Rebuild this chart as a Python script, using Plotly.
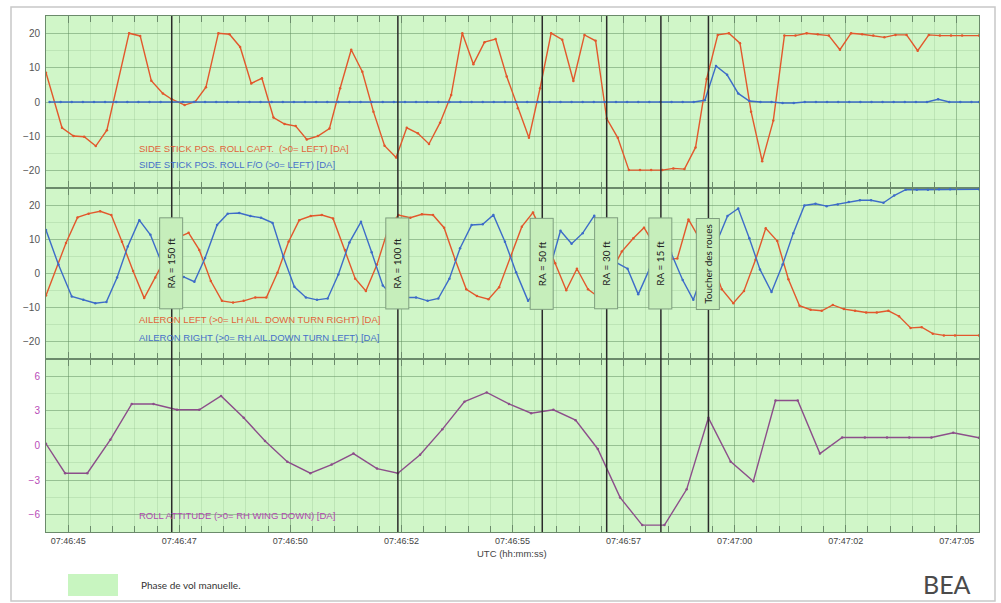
import plotly.graph_objects as go
from plotly.subplots import make_subplots

# ---------------- data (seconds after 07:46:00 UTC) ----------------
tick_vals = [45, 47.5, 50, 52.5, 55, 57.5, 60, 62.5, 65]
tick_text = ["07:46:45", "07:46:47", "07:46:50", "07:46:52", "07:46:55",
             "07:46:57", "07:47:00", "07:47:02", "07:47:05"]

event_t = [47.33, 52.42, 55.67, 57.12, 58.34, 59.41]
event_labels = ["RA = 150 ft", "RA = 100 ft", "RA = 50 ft", "RA = 30 ft",
                "RA = 15 ft", "Toucher des roues"]

t_capt = [44.50, 44.86, 45.12, 45.36, 45.62, 45.87, 46.37, 46.62, 46.87, 47.13,
          47.33, 47.62, 47.86, 48.10, 48.38, 48.63, 48.87, 49.12, 49.36, 49.62,
          49.87, 50.12, 50.37, 50.62, 50.88, 51.12, 51.37, 51.62, 51.87, 52.12,
          52.38, 52.62, 52.87, 53.12, 53.37, 53.62, 53.87, 54.12, 54.37, 54.62,
          54.87, 55.12, 55.37, 55.62, 55.87, 56.12, 56.37, 56.62, 56.87, 57.12,
          57.37, 57.62, 57.87, 58.12, 58.37, 58.62, 58.87, 59.12, 59.37, 59.62,
          59.87, 60.12, 60.37, 60.62, 60.87, 61.12, 61.37, 61.62, 61.87, 62.12,
          62.37, 62.62, 62.87, 63.12, 63.37, 63.62, 63.87, 64.12, 64.37, 64.62,
          64.87, 65.12, 65.50]
stick_capt = [8.5, -7.5, -9.9, -10.1, -12.8, -8.2, 20, 19.2, 6.2, 2.5,
              0.8, -0.9, 0.1, 4.3, 20, 19.7, 16, 5.4, 6.9, -4.5,
              -6.4, -7.0, -10.9, -9.9, -7.7, 4.0, 15.2, 8.8, -2.8, -12.7,
              -16.1, -7.5, -9.1, -12.2, -6.0, 2.0, 20, 11.0, 17.4, 18.3,
              7.4, -1.8, -10.4, 4.0, 20, 18.1, 6.1, 19.5, 17.8, -4.8,
              -10.4, -19.8, -19.8, -19.8, -19.8, -19.3, -19.5, -13.2, 6.7, 19.5,
              20, 17.1, -2.8, -17.2, -5.4, 19.3, 19.3, 20, 19.7, 19.3,
              15.2, 20, 19.7, 19.3, 18.8, 19.5, 19.5, 14.9, 19.5, 19.3,
              19.3, 19.3, 19.3]

t_fo = [44.58, 44.83, 45.08, 45.33, 45.58, 45.83, 46.08, 46.33, 46.58, 46.83,
        47.08, 47.33, 47.58, 47.83, 48.08, 48.33, 48.58, 48.83, 49.08, 49.33,
        49.58, 49.83, 50.08, 50.33, 50.58, 50.83, 51.08, 51.33, 51.58, 51.83,
        52.08, 52.33, 52.58, 52.83, 53.08, 53.33, 53.58, 53.83, 54.08, 54.33,
        54.58, 54.83, 55.08, 55.33, 55.58, 55.83, 56.08, 56.33, 56.58, 56.83,
        57.08, 57.33, 57.58, 57.83, 58.08, 58.33, 58.58, 58.83, 59.08, 59.33,
        59.58, 59.83, 60.08, 60.33, 60.58, 60.83, 61.08, 61.33, 61.58, 61.83,
        62.08, 62.33, 62.58, 62.83, 63.08, 63.33, 63.58, 63.83, 64.08, 64.33,
        64.58, 64.83, 65.08, 65.33, 65.50]
stick_fo = [0, 0, 0, 0, 0, 0, 0, 0, 0, 0,
            0, 0, 0, 0, 0, 0, 0, 0, 0, 0,
            0, 0, 0, 0, 0, 0, 0, 0, 0, 0,
            0, 0, 0, 0, 0, 0, 0, 0, 0, 0,
            0, 0, 0, 0, 0, 0, 0, 0, 0, 0,
            0, 0, 0, 0, 0, 0, 0, 0, 0, 0.5,
            10.5, 7.9, 2.5, 0.3, 0, 0, -0.3, -0.3, 0, 0,
            0, 0, 0, 0, 0, 0, 0, 0, 0, 0,
            0.8, 0, 0, 0, 0]

t_ail_l = [44.50, 44.95, 45.21, 45.46, 45.72, 45.97, 46.21, 46.46, 46.71, 46.96,
           47.21, 47.46, 47.71, 47.95, 48.21, 48.46, 48.71, 48.95, 49.21, 49.46,
           49.71, 49.96, 50.20, 50.46, 50.71, 50.96, 51.23, 51.46, 51.70, 51.95,
           52.20, 52.43, 52.70, 52.96, 53.21, 53.46, 53.71, 53.96, 54.20, 54.46,
           54.70, 54.96, 55.21, 55.46, 55.71, 55.96, 56.21, 56.45, 56.70, 56.95,
           57.20, 57.46, 57.72, 57.96, 58.21, 58.46, 58.71, 58.96, 59.21, 59.46,
           59.71, 59.97, 60.21, 60.47, 60.70, 60.96, 61.21, 61.46, 61.71, 61.96,
           62.21, 62.46, 62.71, 62.96, 63.20, 63.46, 63.70, 63.96, 64.21, 64.46,
           64.71, 64.96, 65.50]
ail_left = [-6.4, 8.9, 16.4, 17.5, 18.2, 17.1, 9.3, 0.7, -7.2, -1.2,
            5.0, 10.5, 11.9, 6.9, -2.2, -8.0, -8.5, -8.0, -7.0, -7.0,
            0.2, 9.3, 15.6, 16.8, 17.1, 16.1, 6.9, -1.5, -5.1, 2.6,
            13.0, 17.1, 16.3, 17.3, 17.1, 13.4, 4.0, -4.6, -6.6, -7.5,
            -4.0, 5.0, 13.7, 17.8, 11.0, 3.0, -4.9, 1.4, -4.6, -7.0,
            0.0, 6.4, 10.3, 13.4, 8.0, 4.0, 4.4, 15.8, 10.0, 4.5,
            -4.6, -8.7, -5.1, 4.0, 13.2, 9.5, -1.7, -9.4, -10.6, -10.9,
            -9.2, -10.4, -10.9, -11.4, -11.4, -10.9, -12.5, -15.9, -15.7, -17.6,
            -18.1, -18.1, -18.1]

t_ail_r = [44.50, 44.78, 45.08, 45.34, 45.61, 45.86, 46.10, 46.34, 46.60, 46.85,
           47.10, 47.35, 47.60, 47.84, 48.08, 48.35, 48.59, 48.85, 49.10, 49.34,
           49.60, 49.84, 50.09, 50.35, 50.60, 50.84, 51.08, 51.33, 51.59, 51.83,
           52.08, 52.33, 52.59, 52.83, 53.09, 53.33, 53.58, 53.82, 54.08, 54.33,
           54.57, 54.83, 55.08, 55.35, 55.58, 55.83, 56.08, 56.33, 56.58, 56.84,
           57.08, 57.35, 57.59, 57.83, 58.08, 58.33, 58.57, 58.83, 59.07, 59.33,
           59.60, 59.84, 60.08, 60.33, 60.57, 60.83, 61.08, 61.32, 61.57, 61.82,
           62.07, 62.32, 62.57, 62.82, 63.07, 63.35, 63.59, 63.85, 64.10, 64.35,
           64.60, 64.85, 65.50]
ail_right = [12.7, 2.6, -6.7, -7.7, -8.7, -8.3, -1.2, 7.9, 15.6, 11.3,
             3.2, -0.5, -1.0, -2.4, 4.5, 14.2, 17.5, 17.7, 16.8, 16.3,
             14.8, 5.0, -3.9, -7.0, -7.7, -7.3, -0.3, 9.1, 15.1, 6.2,
             -3.5, -7.0, -7.0, -7.0, -8.0, -7.3, -1.5, 7.4, 14.2, 14.4,
             17.1, 9.3, 0.4, -8.0, -4.0, 1.0, 12.5, 8.7, 11.8, 16.9,
             8.0, 3.1, 1.4, -6.1, 1.2, 5.0, 6.0, -1.9, -7.7, 2.0,
             9.3, 16.8, 19.0, 10.3, 1.2, -5.4, 2.6, 11.8, 19.9, 20.4,
             19.7, 20.2, 20.9, 21.4, 21.4, 20.7, 22.8, 24.5, 24.5, 24.5,
             24.6, 24.6, 24.6]

t_roll = [44.50, 44.93, 45.43, 45.95, 46.43, 46.92, 47.45, 47.95, 48.44, 48.95,
          49.43, 49.93, 50.45, 50.93, 51.42, 51.95, 52.42, 52.92, 53.42, 53.92,
          54.42, 54.92, 55.42, 55.92, 56.42, 56.92, 57.42, 57.92, 58.42, 58.92,
          59.41, 59.91, 60.42, 60.92, 61.42, 61.92, 62.42, 62.93, 63.43, 63.93,
          64.43, 64.92, 65.50]
roll = [0.15, -2.4, -2.4, 0.5, 3.6, 3.6, 3.1, 3.1, 4.3, 2.4,
        0.4, -1.4, -2.4, -1.65, -0.7, -2.0, -2.4, -0.8, 1.4, 3.8,
        4.6, 3.6, 2.8, 3.1, 2.2, -0.3, -4.5, -6.9, -6.9, -3.8,
        2.4, -1.4, -3.1, 3.9, 3.9, -0.7, 0.7, 0.7, 0.7, 0.7,
        0.7, 1.1, 0.67]

# ---------------- style ----------------
ORANGE = "#e2582c"
BLUE = "#3d6cc8"
PURPLE = "#8c4e8a"
BG = "#d0f6c8"
AX = "#6b8a6b"
GRID_MAJ = "rgba(95,140,95,0.40)"
GRID_MIN = "rgba(95,140,95,0.16)"
SANS = "Liberation Sans, Arial, sans-serif"
HUM = "Lato, Open Sans, sans-serif"

W, H = 1001, 603
ML, MR, MT, MB = 46, 22, 16, 71
PW, PH = W - ML - MR, H - MT - MB


def px(x):
    return (x - ML) / PW


def py(y):
    return (H - MB - y) / PH


fig = make_subplots(rows=3, cols=1, shared_xaxes=True, vertical_spacing=0,
                    row_heights=[172, 171, 173])

fig.add_trace(go.Scatter(x=t_capt, y=stick_capt, mode="lines+markers",
                         line=dict(color=ORANGE, width=1.4),
                         marker=dict(size=2.5, color=ORANGE)), row=1, col=1)
fig.add_trace(go.Scatter(x=t_fo, y=stick_fo, mode="lines+markers",
                         line=dict(color=BLUE, width=1.4),
                         marker=dict(size=2.5, color=BLUE)), row=1, col=1)
fig.add_trace(go.Scatter(x=t_ail_l, y=ail_left, mode="lines+markers",
                         line=dict(color=ORANGE, width=1.4),
                         marker=dict(size=2.5, color=ORANGE)), row=2, col=1)
fig.add_trace(go.Scatter(x=t_ail_r, y=ail_right, mode="lines+markers",
                         line=dict(color=BLUE, width=1.4),
                         marker=dict(size=2.5, color=BLUE)), row=2, col=1)
fig.add_trace(go.Scatter(x=t_roll, y=roll, mode="lines+markers",
                         line=dict(color=PURPLE, width=1.4),
                         marker=dict(size=2.5, color=PURPLE)), row=3, col=1)

for r in (1, 2, 3):
    fig.update_xaxes(row=r, col=1, range=[44.5, 65.5], tickmode="array",
                     tickvals=tick_vals, ticktext=tick_text,
                     ticks="inside", ticklen=7, tickwidth=1, tickcolor=AX,
                     showline=True, linecolor=AX, linewidth=1, mirror="ticks",
                     showgrid=True, gridcolor=GRID_MAJ, gridwidth=1, zeroline=False,
                     minor=dict(tickmode="linear", tick0=44.5, dtick=0.5,
                                ticks="inside", ticklen=6, tickcolor=AX,
                                showgrid=True, gridcolor=GRID_MIN),
                     tickfont=dict(family=SANS, size=9, color="#444"))

ycommon = dict(showline=True, linecolor=AX, linewidth=1, mirror=True,
               showgrid=True, gridcolor=GRID_MAJ, gridwidth=1, zeroline=False,
               ticks="", ticklabelstandoff=3)
fig.update_yaxes(row=1, col=1, range=[-25, 25], tickvals=[-20, -10, 0, 10, 20],
                 minor=dict(tickmode="linear", tick0=0, dtick=5, showgrid=True,
                            gridcolor=GRID_MIN),
                 tickfont=dict(family=SANS, size=10, color="#555"), **ycommon)
fig.update_yaxes(row=2, col=1, range=[-25, 25], tickvals=[-20, -10, 0, 10, 20],
                 minor=dict(tickmode="linear", tick0=0, dtick=5, showgrid=True,
                            gridcolor=GRID_MIN),
                 tickfont=dict(family=SANS, size=10, color="#555"), **ycommon)
fig.update_yaxes(row=3, col=1, range=[-7.5, 7.5], tickvals=[-6, -3, 0, 3, 6],
                 minor=dict(tickmode="linear", tick0=0, dtick=1.5, showgrid=True,
                            gridcolor=GRID_MIN),
                 tickfont=dict(family=SANS, size=10, color="#b84bb8"), **ycommon)

# event lines and labels
for t, lab in zip(event_t, event_labels):
    fig.add_shape(type="line", xref="x", yref="paper", x0=t, x1=t, y0=0, y1=1,
                  line=dict(color="#2b2b2b", width=1.5), layer="above")
    fig.add_annotation(x=t, y=2.9, xref="x2", yref="y2", text=lab, textangle=-90,
                       showarrow=False, bgcolor="#c6eebb", bordercolor="#7f9f7f",
                       borderwidth=1, borderpad=2, width=86, height=18, xshift=-1,
                       font=dict(family=HUM, size=10, color="#222"))

# series labels
labels = [
    ("SIDE STICK POS. ROLL CAPT.  (>0= LEFT) [DA]", 148, "#e0653a"),
    ("SIDE STICK POS. ROLL F/O (>0= LEFT) [DA]", 165, "#4670c8"),
    ("AILERON LEFT (>0= LH AIL. DOWN TURN RIGHT) [DA]", 320, "#e0653a"),
    ("AILERON RIGHT (>0= RH AIL.DOWN TURN LEFT) [DA]", 337, "#4670c8"),
    ("ROLL ATTITUDE (>0= RH WING DOWN) [DA]", 515, "#b048b0"),
]
for txt, yy, col in labels:
    fig.add_annotation(xref="paper", yref="paper", x=px(137), y=py(yy), text=txt,
                       showarrow=False, xanchor="left", yanchor="middle",
                       font=dict(family=SANS, size=9.5, color=col))

fig.add_annotation(xref="paper", yref="paper", x=px(512), y=py(553),
                   text="UTC (hh:mm:ss)", showarrow=False, xanchor="center",
                   yanchor="middle",
                   font=dict(family=SANS, size=9.5, color="#444"))

# legend and logo
fig.add_shape(type="rect", xref="paper", yref="paper", x0=px(68), x1=px(118),
              y0=py(596), y1=py(574), fillcolor="#c8f5c0", line=dict(width=0))
fig.add_annotation(xref="paper", yref="paper", x=px(139), y=py(585),
                   text="Phase de vol manuelle.", showarrow=False, xanchor="left",
                   yanchor="middle",
                   font=dict(family=HUM, size=10, color="#333"))
fig.add_annotation(xref="paper", yref="paper", x=px(947), y=py(584), text="BEA",
                   showarrow=False, xanchor="center", yanchor="middle",
                   font=dict(family=HUM, size=25, color="#4a4a4a"))

# outer frame
fig.add_shape(type="rect", xref="paper", yref="paper", x0=px(11), x1=px(995),
              y0=py(601), y1=py(7), line=dict(color="#c8c8c8", width=1.5))

fig.update_layout(width=W, height=H, margin=dict(l=ML, r=MR, t=MT, b=MB),
                  plot_bgcolor=BG, paper_bgcolor="white", showlegend=False)

fig.write_html("out.html", config={"displayModeBar": False},
               post_script="document.body.style.margin='0px';"
                           "document.body.style.padding='0px';")
